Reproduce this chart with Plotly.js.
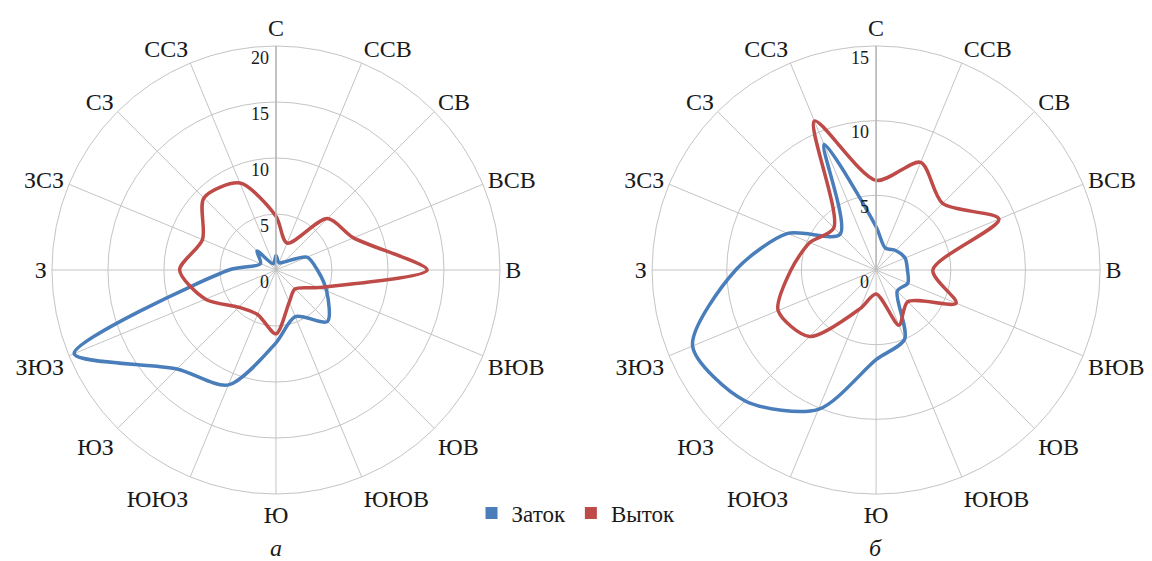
<!DOCTYPE html>
<html><head><meta charset="utf-8">
<script src="https://cdn.plot.ly/plotly-3.0.1.min.js"></script>
<style>html,body{margin:0;padding:0;background:#fff}</style>
</head><body><div id="chart" style="width:1152px;height:561px"></div>
<script>
const directions = ["С","ССВ","СВ","ВСВ","В","ВЮВ","ЮВ","ЮЮВ","Ю","ЮЮЗ","ЮЗ","ЗЮЗ","З","ЗСЗ","СЗ","ССЗ"];
// panel а
const inflowA  = [1.3, 0.7, 1.0, 3.0, 3.7, 4.9, 6.5, 4.5, 6.5, 11.1, 12.5, 19.5, 4.2, 1.5, 2.4, 0.6];
const outflowA = [4.8, 2.6, 6.5, 7.5, 13.5, 4.1, 2.4, 3.1, 5.7, 4.3, 4.7, 6.8, 8.6, 7.1, 9.1, 8.4];
// panel б
const inflowB  = [2.9, 1.6, 1.85, 2.1, 2.1, 2.3, 2.0, 5.0, 6.0, 10.1, 12.4, 13.3, 9.4, 6.4, 3.4, 9.1];
const outflowB = [6.0, 7.8, 6.3, 8.9, 3.8, 5.8, 3.0, 4.0, 1.6, 2.8, 6.3, 7.1, 5.7, 4.8, 4.0, 10.8];
const seriesNames = ["Заток", "Выток"];
const panelLabels = ["а", "б"];
const rangeA = [0, 20];
const rangeB = [0, 15];

const BLUE = "#4a7ebb", RED = "#be4b48", GRID = "#c4c4c4";
const SERIF = "Liberation Serif";

function closed(arr){ return arr.concat([arr[0]]); }
const thetaC = closed(directions);

function lineTrace(r, color, subplot){
  return {type:"scatterpolar", subplot:subplot, r:closed(r), theta:thetaC, mode:"lines",
    line:{color:color, width:3.5, shape:"spline", smoothing:0.8}, showlegend:false, hoverinfo:"skip"};
}
function legendTrace(r, color, name){
  return {type:"scatterpolar", subplot:"polar", r:r, theta:directions, mode:"markers", name:name,
    marker:{symbol:"square", size:0.001, color:color}, showlegend:true, hoverinfo:"skip"};
}

const traces = [
  lineTrace(inflowA, BLUE, "polar"),
  lineTrace(outflowA, RED, "polar"),
  lineTrace(inflowB, BLUE, "polar2"),
  lineTrace(outflowB, RED, "polar2"),
  legendTrace(inflowA, BLUE, seriesNames[0]),
  legendTrace(outflowA, RED, seriesNames[1])
];

function polarCfg(xd, range){
  return {
    domain:{x:xd, y:[0.1194, 0.918]},
    bgcolor:"rgba(0,0,0,0)",
    angularaxis:{type:"category", categoryarray:directions, direction:"clockwise", rotation:90,
      showline:true, linecolor:GRID, linewidth:1, gridcolor:GRID, gridwidth:1, ticks:"",
      tickfont:{family:SERIF, size:24, color:"#1a1a1a"}},
    radialaxis:{range:range, dtick:5, angle:90, tickangle:90, showline:true, linecolor:"#b8b8b8", linewidth:1.5,
      gridcolor:GRID, gridwidth:1, ticks:"", side:"counterclockwise", tickprefix:"<br>",
      tickfont:{family:SERIF, size:18, color:"#1a1a1a"}}
  };
}

const layout = {
  width:1152, height:561, margin:{l:0, r:0, t:0, b:0},
  paper_bgcolor:"#fff", plot_bgcolor:"#fff",
  polar: polarCfg([0.0451, 0.434], rangeA),
  polar2: polarCfg([0.566, 0.955], rangeB),
  showlegend:true,
  legend:{orientation:"h", x:0.5, xanchor:"center", y:0.0856, yanchor:"middle",
    font:{family:SERIF, size:23, color:"#1a1a1a"}, itemsizing:"constant", itemwidth:30,
    bgcolor:"rgba(0,0,0,0)", tracegroupgap:0},
  annotations:[
    {text:panelLabels[0], x:0.2396, y:(561-548)/561, xref:"paper", yref:"paper", showarrow:false,
      font:{family:SERIF, size:24, color:"#1a1a1a"}, xanchor:"center", yanchor:"middle"},
    {text:panelLabels[1], x:0.7604, y:(561-548)/561, xref:"paper", yref:"paper", showarrow:false,
      font:{family:SERIF, size:24, color:"#1a1a1a"}, xanchor:"center", yanchor:"middle"}
  ]
};
layout.annotations.forEach(a => a.text = "<i>" + a.text + "</i>");

Plotly.newPlot("chart", traces, layout, {displayModeBar:false, staticPlot:true});
</script>
</body></html>
